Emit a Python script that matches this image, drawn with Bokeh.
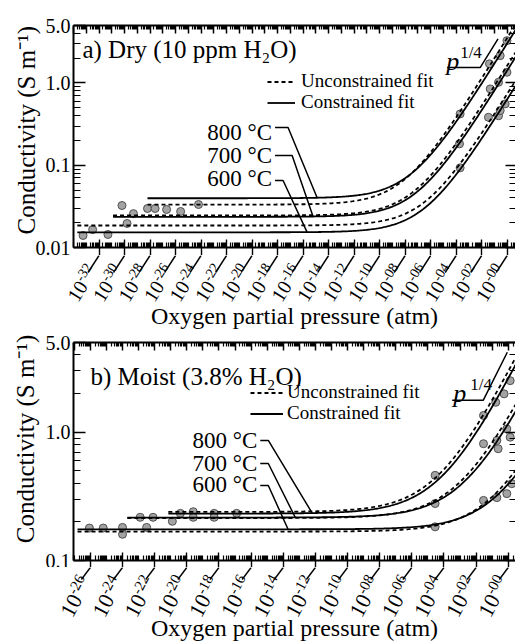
import numpy as np
from bokeh.plotting import figure
from bokeh.models import (Range1d, LogAxis, FixedTicker, Label, Legend, LegendItem,
                          CustomJSTickFormatter)
from bokeh.core.properties import value
from bokeh.layouts import column
from bokeh.embed import file_html
from bokeh.resources import INLINE

FONT = "Liberation Serif"

temperatures = ["800 °C", "700 °C", "600 °C"]

# ---------------- (a) dry: log10(pO2/atm) and conductivity (S m-1) ----------------
dry_800_logp = [-28.2, -27.6, -26.7, -25.6, -24.2, -3.69, -1.39, -0.55, -0.02]
dry_800_sigma = [0.0298, 0.0298, 0.029, 0.0274, 0.0333, 0.421, 1.71, 2.15, 3.27]
dry_700_logp = [-30.2, -29.8, -29.3, -3.74, -1.33, -0.68, -0.02]
dry_700_sigma = [0.0324, 0.0196, 0.0258, 0.182, 0.848, 1.02, 1.35]
dry_600_logp = [-33.25, -32.5, -31.3, -3.69, -1.47, -0.68, -0.55, -0.16]
dry_600_sigma = [0.0140, 0.0165, 0.0144, 0.093, 0.383, 0.40, 0.462, 0.557]

# ---------------- (b) moist ----------------
moist_800_logp = [-20.4, -19.6, -18.3, -16.9, -4.55, -1.54, -0.78, -0.26, 0.12]
moist_800_sigma = [0.233, 0.240, 0.233, 0.233, 0.461, 1.35, 1.71, 1.99, 2.52]
moist_700_logp = [-22.9, -22.1, -20.9, -19.6, -18.3, -4.55, -1.54, -0.71, -0.63, -0.09, 0.12]
moist_700_sigma = [0.217, 0.217, 0.202, 0.217, 0.217, 0.278, 0.813, 0.862, 0.743, 1.06, 0.914]
moist_600_logp = [-26.06, -25.2, -24.0, -24.0, -22.5, -4.55, -1.54, -0.71, -0.09, 0.22]
moist_600_sigma = [0.179, 0.179, 0.181, 0.160, 0.181, 0.183, 0.294, 0.309, 0.332, 0.397]

# ---------------- fits: sigma = sigma_ion + sigma_p * pO2^(1/4) ----------------
fit_exponent = 0.25
dry_con_sigma_ion = [0.0397, 0.0236, 0.0153]
dry_con_sigma_p = [3.0, 1.4, 0.62]
dry_unc_sigma_ion = [0.0332, 0.0245, 0.0185]
dry_unc_sigma_p = [3.5, 1.6, 0.72]
dry_fit_start = [-28.2, -30.9, -33.7]

moist_con_sigma_ion = [0.232, 0.216, 0.175]
moist_con_sigma_p = [2.4, 0.95, 0.22]
moist_unc_sigma_ion = [0.239, 0.214, 0.168]
moist_unc_sigma_p = [2.75, 1.1, 0.26]
moist_fit_start = [-21.15, -23.7, -26.8]

# ---------------- axes ----------------
dry_x_range_exp = [-34.0, 0.65]
moist_x_range_exp = [-27.05, 0.45]
dry_x_label_exps = list(range(-32, 1, 2))
moist_x_label_exps = list(range(-26, 1, 2))
dry_y_range = [0.01, 5.0]
moist_y_range = [0.1, 5.0]
dry_y_ticks = [0.01, 0.1, 1.0, 5.0]
moist_y_ticks = [0.1, 1.0, 5.0]

x_title = "Oxygen partial pressure (atm)"
y_title = "Conductivity (S m⁻¹)"
dry_title = "a) Dry (10 ppm H₂O)"
moist_title = "b) Moist (3.8% H₂O)"
legend_labels = ["Unconstrained fit", "Constrained fit"]

# annotation anchors (data coordinates)
dry_title_pos = (-33.3, 2.52)
moist_title_pos = (-26.0, 2.72)
dry_temp_label_logp = -18.43
dry_temp_label_sigma = [0.25, 0.131, 0.0689]
dry_temp_leader_logp = [(-18.2, -17.18, -14.9), (-18.2, -16.86, -15.22), (-18.2, -17.57, -15.69)]
dry_temp_leader_sigma = [0.287, 0.131, 0.0652]
moist_temp_label_logp = -15.61
moist_temp_label_sigma = [0.863, 0.570, 0.391]
moist_temp_leader_logp = [(-15.43, -14.93, -12.2), (-15.43, -14.93, -13.25), (-15.43, -14.93, -13.7)]
moist_temp_leader_sigma = [0.863, 0.570, 0.384]
dry_slope = dict(x0=-4.71, x1=-2.12, s=1.54, d=1.4, p=(-4.78, 1.83), q=(-3.69, 2.35))
moist_slope = dict(x0=-3.49, x1=-1.56, s=1.77, d=1.5, p=(-3.43, 2.0), q=(-2.37, 2.35))

FRAME_W = 442
LEFT = 73
BLANK = "return '';"


def model(logp, s_ion, s_p):
    return s_ion + s_p * 10.0 ** (fit_exponent * np.asarray(logp))


def no_frame_align(fig):
    if "frame_align" in fig.properties():
        fig.frame_align = False


def panel(P):
    x_lo, x_hi = P["xr"]
    y_lo, y_hi = P["yr"]
    fh = P["frame_h"]
    B = P["leader"][0]
    p = figure(width=LEFT + FRAME_W, height=P["bt"] + fh + B,
               x_axis_type="log", y_axis_type="log",
               x_range=Range1d(10.0 ** x_lo, 10.0 ** x_hi), y_range=Range1d(y_lo, y_hi),
               output_backend="svg", toolbar_location=None,
               min_border_left=LEFT, min_border_right=0,
               min_border_top=P["bt"], min_border_bottom=B)
    p.outline_line_color = None
    p.grid.visible = False
    no_frame_align(p)

    all_dec = list(range(int(np.ceil(x_lo)), int(np.floor(x_hi)) + 1))
    decades = [10.0 ** d for d in all_dec]
    xminor = [k * 10.0 ** d for d in range(int(np.floor(x_lo)), int(np.ceil(x_hi)) + 1)
              for k in range(2, 10) if x_lo < d + np.log10(k) < x_hi]
    labelled = [10.0 ** e for e in P["label_exps"]]
    other_dec = [10.0 ** d for d in all_dec if d not in P["label_exps"]]
    ymajor = P["yticks"]
    yminor = [k * 10.0 ** d for d in range(int(np.floor(np.log10(y_lo))), int(np.ceil(np.log10(y_hi))))
              for k in range(2, 10) if y_lo < k * 10.0 ** d < y_hi]

    # bottom axis: ticks only; labelled decades get an outward stub (start of the leader)
    xa = p.xaxis[0]
    xa.ticker = FixedTicker(ticks=labelled, minor_ticks=sorted(other_dec + xminor))
    xa.formatter = CustomJSTickFormatter(code=BLANK)
    xa.major_tick_in, xa.major_tick_out = 8, B
    xa.minor_tick_in, xa.minor_tick_out = 5, 0
    xa.major_label_text_font_size = "0.1px"
    xa.major_label_standoff = 0
    xa.axis_line_width = 2
    xa.major_tick_line_width = 1.4
    xa.minor_tick_line_width = 1.2
    # left axis
    ya = p.yaxis[0]
    ya.ticker = FixedTicker(ticks=ymajor, minor_ticks=yminor)
    ya.formatter = CustomJSTickFormatter(code="return tick < 0.1 ? tick.toFixed(2) : tick.toFixed(1);")
    ya.major_tick_in, ya.major_tick_out = 12, 0
    ya.minor_tick_in, ya.minor_tick_out = 7, 0
    ya.major_label_standoff = 3
    ya.major_label_text_font = FONT
    ya.major_label_text_font_size = "20px"
    ya.major_label_text_color = "black"
    ya.axis_line_width = 2
    ya.major_tick_line_width = 1.5
    ya.minor_tick_line_width = 1.2
    ya.axis_label = P["ytitle_pad"] + y_title
    ya.axis_label_text_font = FONT
    ya.axis_label_text_font_size = "25px"
    ya.axis_label_text_font_style = "normal"
    ya.axis_label_text_color = "black"
    ya.axis_label_standoff = P["ytitle_standoff"]
    # top and right axes (ticks only)
    ta = LogAxis(ticker=FixedTicker(ticks=decades, minor_ticks=xminor),
                 formatter=CustomJSTickFormatter(code=BLANK),
                 major_tick_in=8, major_tick_out=0, minor_tick_in=4, minor_tick_out=0,
                 major_label_text_font_size="0.1px", major_label_standoff=0,
                 axis_line_width=2, major_tick_line_width=1.5, minor_tick_line_width=1.2)
    p.add_layout(ta, "above")
    ra = LogAxis(ticker=FixedTicker(ticks=ymajor, minor_ticks=yminor),
                 formatter=CustomJSTickFormatter(code=BLANK),
                 major_tick_in=10, major_tick_out=0, minor_tick_in=6, minor_tick_out=0,
                 major_label_text_font_size="0.1px", major_label_standoff=0,
                 axis_line_color=None, major_tick_line_width=1.5, minor_tick_line_width=1.2)
    p.add_layout(ra, "right")

    # data points
    for lp, sg in P["points"]:
        p.scatter(10.0 ** np.array(lp), sg, size=8, fill_color="#a3a3a3",
                  line_color="#505050", line_width=1)

    # fit curves
    dash_r = solid_r = None
    for i in range(3):
        lp = np.linspace(P["fit_start"][i], x_hi, 300)
        r1 = p.line(10.0 ** lp, model(lp, P["unc_ion"][i], P["unc_p"][i]),
                    line_color="black", line_width=1.8, line_dash="4 3")
        r2 = p.line(10.0 ** lp, model(lp, P["con_ion"][i], P["con_p"][i]),
                    line_color="black", line_width=1.8)
        if dash_r is None:
            dash_r, solid_r = r1, r2

    # legend: one row per Legend so the row pitch matches the original
    for lab, rend, loc in zip(legend_labels, [dash_r, solid_r], P["legend_locs"]):
        p.add_layout(Legend(items=[LegendItem(label=lab, renderers=[rend])],
                            location=loc, padding=0, spacing=0, margin=0,
                            glyph_width=P["glyph_w"], glyph_height=19, label_height=19,
                            label_standoff=P["standoff"], background_fill_alpha=0,
                            border_line_alpha=0, label_text_font=FONT,
                            label_text_font_size="19px", label_text_color="black"))

    # title inside the frame
    tx, ty = P["title_pos"]
    p.add_layout(Label(x=10.0 ** tx, y=ty, text=P["title"], text_align="left",
                       text_baseline="alphabetic", text_font=FONT, text_font_size="25px",
                       text_color="black"))

    # temperature labels with leaders
    for i in range(3):
        p.add_layout(Label(x=10.0 ** P["temp_x"], y=P["temp_y"][i], text=temperatures[i],
                           text_align="right", text_baseline="middle", text_font=FONT,
                           text_font_size="23px", text_color="black"))
        a, b, c = P["lead_x"][i]
        s0 = P["lead_y"][i]
        p.line([10.0 ** a, 10.0 ** b, 10.0 ** c],
               [s0, s0, float(model(c, P["con_ion"][i], P["con_p"][i]))],
               line_color="black", line_width=1.5)

    # p^(1/4) slope indicator
    S = P["slope"]
    p.line([10.0 ** S["x0"], 10.0 ** S["x1"], 10.0 ** (S["x1"] + S["d"])],
           [S["s"], S["s"], S["s"] * 10.0 ** (fit_exponent * S["d"])],
           line_color="black", line_width=1.5)
    p.add_layout(Label(x=10.0 ** S["p"][0], y=S["p"][1], text="p", text_font=FONT,
                       text_font_style="italic", text_font_size="26px", text_align="left",
                       text_baseline="alphabetic", text_color="black"))
    p.add_layout(Label(x=10.0 ** S["q"][0], y=S["q"][1], text="1/4", text_font=FONT,
                       text_font_size="17px", text_align="left",
                       text_baseline="alphabetic", text_color="black"))
    return p


def strip(P):
    """Tick labels (10^n) with slanted leader lines and the x-axis title, below a panel."""
    x_lo, x_hi = P["xr"]
    h = P["strip_h"]
    B, sx, sy = P["leader"]
    ppd = FRAME_W / (x_hi - x_lo)
    s = figure(width=LEFT + FRAME_W, height=h,
               x_range=Range1d(x_lo - LEFT / ppd, x_hi),
               y_range=Range1d(-(h + B), -B),
               x_axis_location=None, y_axis_location=None,
               output_backend="svg", toolbar_location=None, min_border=0)
    s.outline_line_color = None
    s.grid.visible = False
    no_frame_align(s)
    exps = P["label_exps"]
    s.multi_line(xs=[[e, e + sx / ppd] for e in exps], ys=[[-B, -sy] for _ in exps],
                 line_color="black", line_width=1.4)
    ang = np.deg2rad(P["angle"])
    (bx, by), fs_b, fs_e, raise_ = P["label_start"], P["base_fs"], P["exp_fs"], P["raise"]
    ex = bx + fs_b * np.cos(ang) - raise_ * np.sin(ang)
    ey = by + fs_b * np.sin(ang) + raise_ * np.cos(ang)
    s.text(x=[e + bx / ppd for e in exps], y=[by] * len(exps), text=["10"] * len(exps),
           angle=ang, text_align="left", text_baseline="alphabetic",
           text_font=value(FONT), text_font_size=value("%dpx" % fs_b), text_color="black")
    s.text(x=[e + ex / ppd for e in exps], y=[ey] * len(exps),
           text=["-%02d" % abs(e) for e in exps],
           angle=ang, text_align="left", text_baseline="alphabetic",
           text_font=value(FONT), text_font_size=value("%dpx" % fs_e), text_color="black")
    s.text(x=[(x_lo + x_hi) / 2], y=[P["xtitle_y"]], text=[x_title],
           text_align="center", text_baseline="middle",
           text_font=value(FONT), text_font_size=value("24px"), text_color="black")
    return s


P1 = dict(
    xr=dry_x_range_exp, yr=dry_y_range, yticks=dry_y_ticks, frame_h=222, bt=25, strip_h=74,
    points=[(dry_800_logp, dry_800_sigma), (dry_700_logp, dry_700_sigma), (dry_600_logp, dry_600_sigma)],
    fit_start=dry_fit_start, unc_ion=dry_unc_sigma_ion, unc_p=dry_unc_sigma_p,
    con_ion=dry_con_sigma_ion, con_p=dry_con_sigma_p,
    legend_locs=[(194, 155), (194, 134)], glyph_w=28, standoff=6,
    title=dry_title, title_pos=dry_title_pos,
    temp_x=dry_temp_label_logp, temp_y=dry_temp_label_sigma,
    lead_x=dry_temp_leader_logp, lead_y=dry_temp_leader_sigma, slope=dry_slope,
    label_exps=dry_x_label_exps, leader=(8, -11, 25),
    angle=58, label_start=(-27, -52), base_fs=20, exp_fs=14, **{"raise": 5},
    xtitle_y=-68, ytitle_standoff=-7, ytitle_pad="\u2002")

P2 = dict(
    xr=moist_x_range_exp, yr=moist_y_range, yticks=moist_y_ticks, frame_h=218, bt=13, strip_h=74,
    points=[(moist_800_logp, moist_800_sigma), (moist_700_logp, moist_700_sigma), (moist_600_logp, moist_600_sigma)],
    fit_start=moist_fit_start, unc_ion=moist_unc_sigma_ion, unc_p=moist_unc_sigma_p,
    con_ion=moist_con_sigma_ion, con_p=moist_con_sigma_p,
    legend_locs=[(177, 157), (177, 136)], glyph_w=33, standoff=4,
    title=moist_title, title_pos=moist_title_pos,
    temp_x=moist_temp_label_logp, temp_y=moist_temp_label_sigma,
    lead_x=moist_temp_leader_logp, lead_y=moist_temp_leader_sigma, slope=moist_slope,
    label_exps=moist_x_label_exps, leader=(7, -9, 19),
    angle=62, label_start=(-24, -55), base_fs=22, exp_fs=15, **{"raise": 6},
    xtitle_y=-67, ytitle_standoff=4, ytitle_pad="\u2003")

layout = column(panel(P1), strip(P1), panel(P2), strip(P2), spacing=0)
open("out.html", "w").write(file_html(layout, INLINE))
